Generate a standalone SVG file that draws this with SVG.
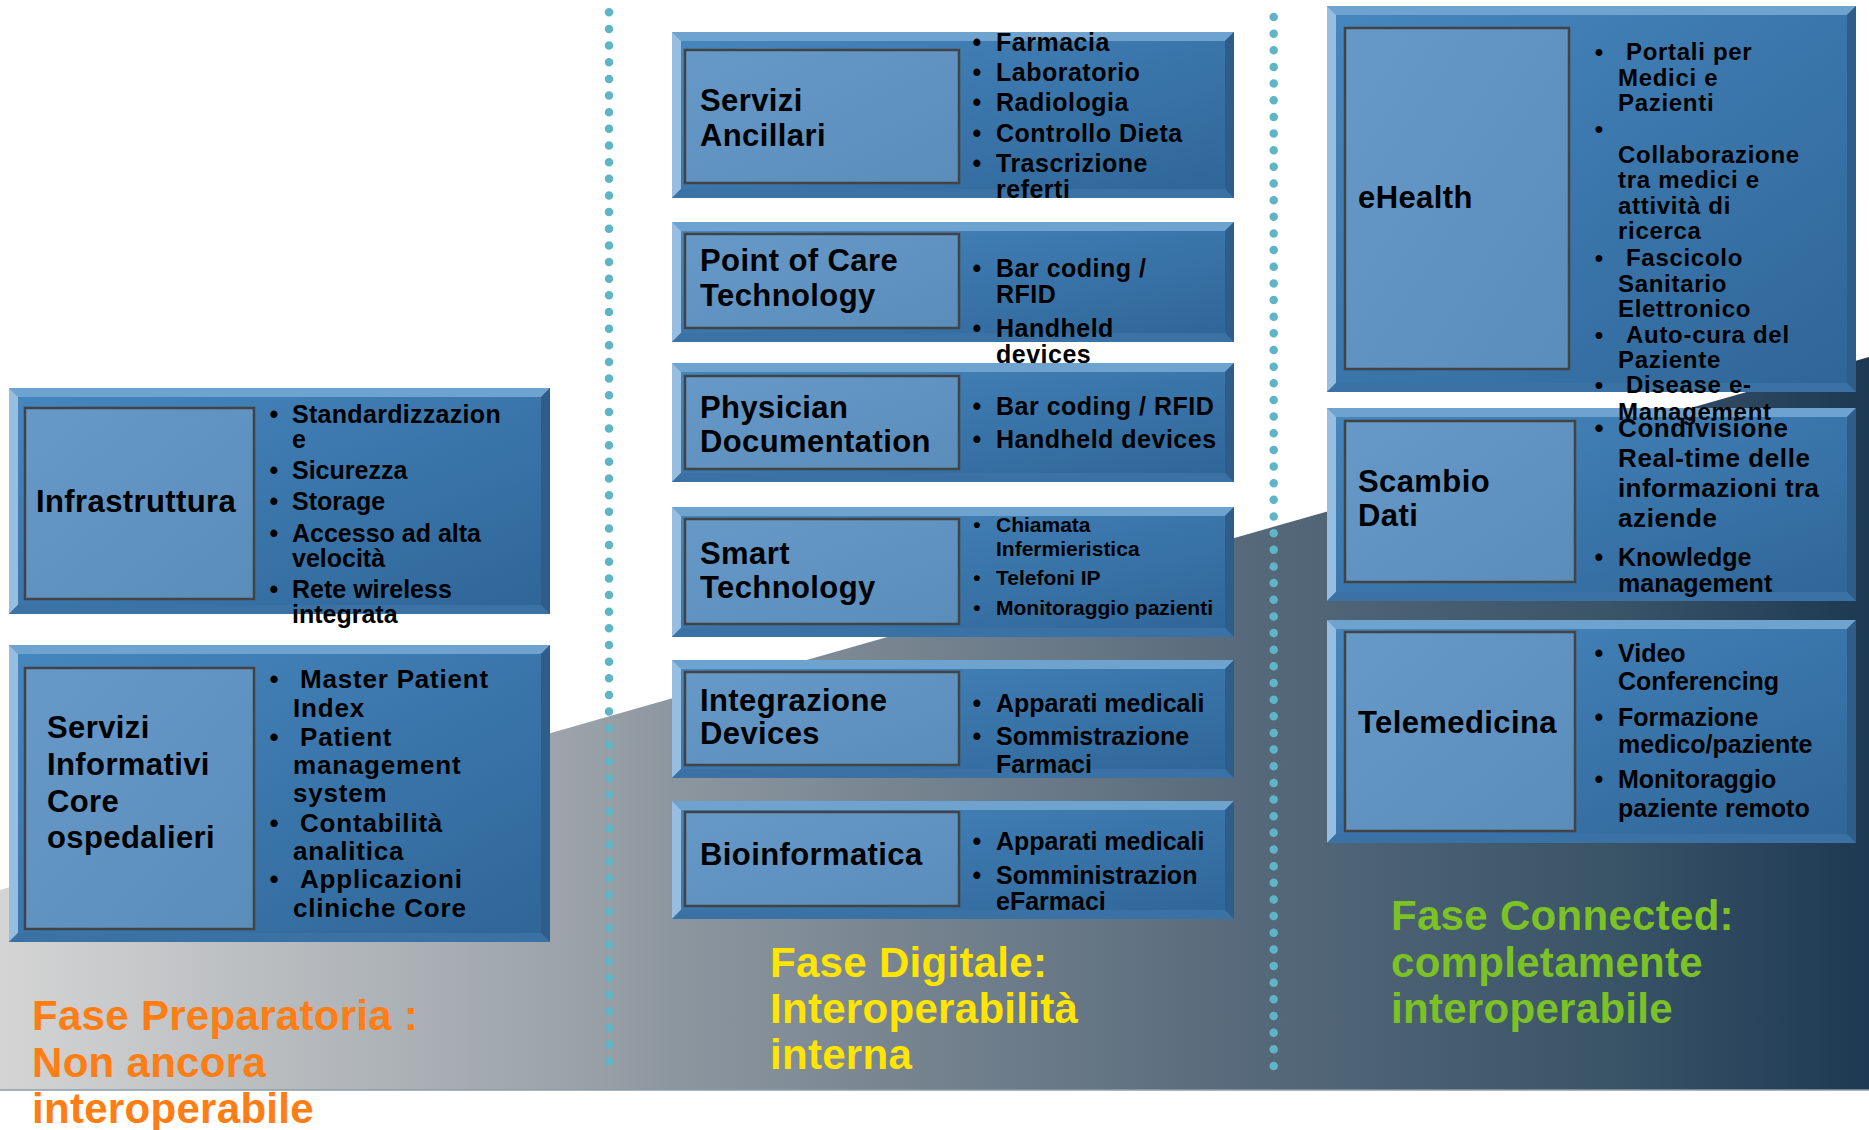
<svg xmlns="http://www.w3.org/2000/svg" width="1869" height="1130" viewBox="0 0 1869 1130">
<defs>
<linearGradient id="bg" gradientUnits="userSpaceOnUse" x1="0" y1="0" x2="1869" y2="0">
<stop offset="0" stop-color="#d4d4d4"/>
<stop offset="0.32" stop-color="#98a0a7"/>
<stop offset="0.36" stop-color="#8c969f"/>
<stop offset="0.67" stop-color="#56697a"/>
<stop offset="0.86" stop-color="#3a5468"/>
<stop offset="1" stop-color="#1d3953"/>
</linearGradient>
<linearGradient id="gOuter" x1="0" y1="0" x2="1" y2="1">
<stop offset="0" stop-color="#4687bf"/>
<stop offset="1" stop-color="#2f6597"/>
</linearGradient>
<linearGradient id="gInner" x1="0" y1="0" x2="1" y2="1">
<stop offset="0" stop-color="#6699c8"/>
<stop offset="1" stop-color="#5b8dbb"/>
</linearGradient>
</defs>
<style>
text{font-family:"Liberation Sans",Arial,sans-serif;font-weight:bold;fill:#000}
.lbl{font-size:31px;letter-spacing:0.4px}
.b25{font-size:25px}
.b26{font-size:26px}
.b24{font-size:24px;letter-spacing:0.7px}
.b21{font-size:21px}
.ls5{letter-spacing:0.5px}
.ls8{letter-spacing:0.8px}
.bul{text-anchor:middle;letter-spacing:0}
.ph{font-size:42px;letter-spacing:0.3px}
.or{fill:#ff7d12}
.ye{fill:#ffe500}
.gr{fill:#7cc224}
.tb{fill:#6fa3cf}.lb{fill:#97bde0}.rb{fill:#2e5d89}.bb{fill:#3a72a5}
.main{fill:url(#gOuter)}
.inner{fill:url(#gInner);stroke:#434343;stroke-width:2.5}
.dots{stroke:#5fb5c6;stroke-width:8.5;stroke-linecap:round;stroke-dasharray:0 16.65;fill:none}
</style>
<rect width="1869" height="1130" fill="#ffffff"/>
<polygon points="0,890 1869,357 1869,1090 0,1090" fill="url(#bg)"/>
<line x1="0" y1="1090" x2="1869" y2="1090" stroke="#8d9caa" stroke-width="1.5"/>
<g id="connectors">
<line class="dots" x1="609" y1="12.3" x2="609" y2="1066"/>
<line class="dots" x1="1273.7" y1="17" x2="1273.7" y2="1068"/>
</g>

<g id="infrastruttura">
<rect class="main" x="9" y="388" width="541" height="226"/>
<polygon class="tb" points="9,388 550,388 541,397 18,397"/>
<polygon class="lb" points="9,388 18,397 18,605 9,614"/>
<polygon class="rb" points="550,388 550,614 541,605 541,397"/>
<polygon class="bb" points="9,614 18,605 541,605 550,614"/>
<rect class="inner" x="25" y="408" width="229" height="191"/>
<text class="lbl" x="36" y="512">Infrastruttura</text>
<text class="b25 bul" x="274" y="423">•</text><text class="b25" x="292" y="423" letter-spacing="0.3">Standardizzazion</text>
<text class="b25" x="292" y="448">e</text>
<text class="b25 bul" x="274" y="479">•</text><text class="b25" x="292" y="479">Sicurezza</text>
<text class="b25 bul" x="274" y="510">•</text><text class="b25" x="292" y="510">Storage</text>
<text class="b25 bul" x="274" y="542">•</text><text class="b25" x="292" y="542">Accesso ad alta</text>
<text class="b25" x="292" y="567">velocità</text>
<text class="b25 bul" x="274" y="598">•</text><text class="b25" x="292" y="598">Rete wireless</text>
<text class="b25" x="292" y="623">integrata</text>
</g>

<g id="servizi-informativi">
<rect class="main" x="9" y="645" width="541" height="297"/>
<polygon class="tb" points="9,645 550,645 541,654 18,654"/>
<polygon class="lb" points="9,645 18,654 18,933 9,942"/>
<polygon class="rb" points="550,645 550,942 541,933 541,654"/>
<polygon class="bb" points="9,942 18,933 541,933 550,942"/>
<rect class="inner" x="25" y="668" width="229" height="261"/>
<text class="lbl" x="47" y="738">Servizi</text>
<text class="lbl" x="47" y="775">Informativi</text>
<text class="lbl" x="47" y="812">Core</text>
<text class="lbl" x="47" y="848">ospedalieri</text>
<text class="b26 bul" x="274" y="688">•</text><text class="b26 ls8" x="300" y="688">Master Patient</text>
<text class="b26 ls8" x="293" y="717">Index</text>
<text class="b26 bul" x="274" y="746">•</text><text class="b26 ls8" x="300" y="746">Patient</text>
<text class="b26 ls8" x="293" y="774">management</text>
<text class="b26 ls8" x="293" y="802">system</text>
<text class="b26 bul" x="274" y="832">•</text><text class="b26 ls8" x="300" y="832">Contabilità</text>
<text class="b26 ls8" x="293" y="860">analitica</text>
<text class="b26 bul" x="274" y="888">•</text><text class="b26 ls8" x="300" y="888">Applicazioni</text>
<text class="b26 ls8" x="293" y="917">cliniche Core</text>
</g>

<g id="servizi-ancillari">
<rect class="main" x="672" y="32" width="562" height="166"/>
<polygon class="tb" points="672,32 1234,32 1225,41 681,41"/>
<polygon class="lb" points="672,32 681,41 681,189 672,198"/>
<polygon class="rb" points="1234,32 1234,198 1225,189 1225,41"/>
<polygon class="bb" points="672,198 681,189 1225,189 1234,198"/>
<rect class="inner" x="685" y="50" width="274" height="133"/>
<text class="lbl" x="700" y="111">Servizi</text>
<text class="lbl" x="700" y="146">Ancillari</text>
<text class="b25 bul" x="977" y="51">•</text><text class="b25 ls5" x="996" y="51">Farmacia</text>
<text class="b25 bul" x="977" y="81">•</text><text class="b25 ls5" x="996" y="81">Laboratorio</text>
<text class="b25 bul" x="977" y="111">•</text><text class="b25 ls5" x="996" y="111">Radiologia</text>
<text class="b25 bul" x="977" y="142">•</text><text class="b25 ls5" x="996" y="142">Controllo Dieta</text>
<text class="b25 bul" x="977" y="172">•</text><text class="b25 ls5" x="996" y="172">Trascrizione</text>
<text class="b25 ls5" x="996" y="198">referti</text>
</g>

<g id="point-of-care">
<rect class="main" x="672" y="222" width="562" height="120"/>
<polygon class="tb" points="672,222 1234,222 1225,231 681,231"/>
<polygon class="lb" points="672,222 681,231 681,333 672,342"/>
<polygon class="rb" points="1234,222 1234,342 1225,333 1225,231"/>
<polygon class="bb" points="672,342 681,333 1225,333 1234,342"/>
<rect class="inner" x="685" y="234" width="274" height="94"/>
<text class="lbl" x="700" y="271">Point of Care</text>
<text class="lbl" x="700" y="306">Technology</text>
<text class="b25 bul" x="977" y="277">•</text><text class="b25 ls5" x="996" y="277">Bar coding /</text>
<text class="b25 ls5" x="996" y="303">RFID</text>
<text class="b25 bul" x="977" y="337">•</text><text class="b25 ls5" x="996" y="337">Handheld</text>
<text class="b25 ls5" x="996" y="363">devices</text>
</g>

<g id="physician-documentation">
<rect class="main" x="672" y="363" width="562" height="119"/>
<polygon class="tb" points="672,363 1234,363 1225,372 681,372"/>
<polygon class="lb" points="672,363 681,372 681,473 672,482"/>
<polygon class="rb" points="1234,363 1234,482 1225,473 1225,372"/>
<polygon class="bb" points="672,482 681,473 1225,473 1234,482"/>
<rect class="inner" x="685" y="376" width="274" height="93"/>
<text class="lbl" x="700" y="418">Physician</text>
<text class="lbl" x="700" y="452">Documentation</text>
<text class="b25 bul" x="977" y="415">•</text><text class="b25 ls5" x="996" y="415">Bar coding / RFID</text>
<text class="b25 bul" x="977" y="448">•</text><text class="b25 ls5" x="996" y="448">Handheld devices</text>
</g>

<g id="smart-technology">
<rect class="main" x="672" y="507" width="562" height="130"/>
<polygon class="tb" points="672,507 1234,507 1225,516 681,516"/>
<polygon class="lb" points="672,507 681,516 681,628 672,637"/>
<polygon class="rb" points="1234,507 1234,637 1225,628 1225,516"/>
<polygon class="bb" points="672,637 681,628 1225,628 1234,637"/>
<rect class="inner" x="685" y="519" width="274" height="105"/>
<text class="lbl" x="700" y="564">Smart</text>
<text class="lbl" x="700" y="598">Technology</text>
<text class="b21 bul" x="977" y="532">•</text><text class="b21" x="996" y="532">Chiamata</text>
<text class="b21" x="996" y="556">Infermieristica</text>
<text class="b21 bul" x="977" y="585">•</text><text class="b21" x="996" y="585">Telefoni IP</text>
<text class="b21 bul" x="977" y="615">•</text><text class="b21" x="996" y="615">Monitoraggio pazienti</text>
</g>

<g id="integrazione-devices">
<rect class="main" x="672" y="660" width="562" height="118"/>
<polygon class="tb" points="672,660 1234,660 1225,669 681,669"/>
<polygon class="lb" points="672,660 681,669 681,769 672,778"/>
<polygon class="rb" points="1234,660 1234,778 1225,769 1225,669"/>
<polygon class="bb" points="672,778 681,769 1225,769 1234,778"/>
<rect class="inner" x="685" y="672" width="274" height="93"/>
<text class="lbl" x="700" y="711">Integrazione</text>
<text class="lbl" x="700" y="744">Devices</text>
<text class="b25 bul" x="977" y="712">•</text><text class="b25" x="996" y="712">Apparati medicali</text>
<text class="b25 bul" x="977" y="745">•</text><text class="b25" x="996" y="745">Sommistrazione</text>
<text class="b25" x="996" y="773">Farmaci</text>
</g>

<g id="bioinformatica">
<rect class="main" x="672" y="801" width="562" height="118"/>
<polygon class="tb" points="672,801 1234,801 1225,810 681,810"/>
<polygon class="lb" points="672,801 681,810 681,910 672,919"/>
<polygon class="rb" points="1234,801 1234,919 1225,910 1225,810"/>
<polygon class="bb" points="672,919 681,910 1225,910 1234,919"/>
<rect class="inner" x="685" y="812" width="274" height="94"/>
<text class="lbl" x="700" y="865">Bioinformatica</text>
<text class="b25 bul" x="977" y="850">•</text><text class="b25" x="996" y="850">Apparati medicali</text>
<text class="b25 bul" x="977" y="884">•</text><text class="b25" x="996" y="884">Somministrazion</text>
<text class="b25" x="996" y="910">eFarmaci</text>
</g>

<g id="scambio-dati">
<rect class="main" x="1327" y="408" width="529" height="193"/>
<polygon class="tb" points="1327,408 1856,408 1847,417 1336,417"/>
<polygon class="lb" points="1327,408 1336,417 1336,592 1327,601"/>
<polygon class="rb" points="1856,408 1856,601 1847,592 1847,417"/>
<polygon class="bb" points="1327,601 1336,592 1847,592 1856,601"/>
<rect class="inner" x="1345" y="421" width="230" height="161"/>
<text class="lbl" x="1358" y="492">Scambio</text>
<text class="lbl" x="1358" y="526">Dati</text>
<text class="b26 bul" x="1599" y="437">•</text><text class="b26" x="1618" y="437" letter-spacing="0.6">Condivisione</text>
<text class="b26" x="1618" y="467" letter-spacing="0.6">Real-time delle</text>
<text class="b26" x="1618" y="497" letter-spacing="0.4">informazioni tra</text>
<text class="b26" x="1618" y="527" letter-spacing="0.6">aziende</text>
<text class="b25 bul" x="1599" y="566">•</text><text class="b25" x="1618" y="566">Knowledge</text>
<text class="b25" x="1618" y="592">management</text>
</g>

<g id="telemedicina">
<rect class="main" x="1327" y="620" width="529" height="223"/>
<polygon class="tb" points="1327,620 1856,620 1847,629 1336,629"/>
<polygon class="lb" points="1327,620 1336,629 1336,834 1327,843"/>
<polygon class="rb" points="1856,620 1856,843 1847,834 1847,629"/>
<polygon class="bb" points="1327,843 1336,834 1847,834 1856,843"/>
<rect class="inner" x="1345" y="632" width="230" height="199"/>
<text class="lbl" x="1358" y="733">Telemedicina</text>
<text class="b25 bul" x="1599" y="662">•</text><text class="b25" x="1618" y="662">Video</text>
<text class="b25" x="1618" y="690">Conferencing</text>
<text class="b25 bul" x="1599" y="726">•</text><text class="b25" x="1618" y="726">Formazione</text>
<text class="b25" x="1618" y="753">medico/paziente</text>
<text class="b25 bul" x="1599" y="788">•</text><text class="b25" x="1618" y="788">Monitoraggio</text>
<text class="b25" x="1618" y="817">paziente remoto</text>
</g>

<g id="ehealth">
<rect class="main" x="1327" y="6" width="529" height="386"/>
<polygon class="tb" points="1327,6 1856,6 1847,15 1336,15"/>
<polygon class="lb" points="1327,6 1336,15 1336,383 1327,392"/>
<polygon class="rb" points="1856,6 1856,392 1847,383 1847,15"/>
<polygon class="bb" points="1327,392 1336,383 1847,383 1856,392"/>
<rect class="inner" x="1345" y="28" width="224" height="341"/>
<text class="lbl" x="1358" y="208">eHealth</text>
<text class="b24 bul" x="1599" y="60">•</text><text class="b24" x="1626" y="60">Portali per</text>
<text class="b24" x="1618" y="86">Medici e</text>
<text class="b24" x="1618" y="111">Pazienti</text>
<text class="b24 bul" x="1599" y="137">•</text>
<text class="b24" x="1618" y="163">Collaborazione</text>
<text class="b24" x="1618" y="188">tra medici e</text>
<text class="b24" x="1618" y="214">attività di</text>
<text class="b24" x="1618" y="239">ricerca</text>
<text class="b24 bul" x="1599" y="266">•</text><text class="b24" x="1626" y="266">Fascicolo</text>
<text class="b24" x="1618" y="292">Sanitario</text>
<text class="b24" x="1618" y="317">Elettronico</text>
<text class="b24 bul" x="1599" y="343">•</text><text class="b24" x="1626" y="343">Auto-cura del</text>
<text class="b24" x="1618" y="368">Paziente</text>
<text class="b24 bul" x="1599" y="393">•</text><text class="b24" x="1626" y="393">Disease e-</text>
<text class="b24" x="1618" y="420">Management</text>
</g>

<g id="fase-preparatoria">
<text class="ph or" x="32" y="1030">Fase Preparatoria :</text>
<text class="ph or" x="32" y="1077">Non ancora</text>
<text class="ph or" x="32" y="1123">interoperabile</text>
</g>
<g id="fase-digitale">
<text class="ph ye" x="770" y="977">Fase Digitale:</text>
<text class="ph ye" x="770" y="1023">Interoperabilità</text>
<text class="ph ye" x="770" y="1069">interna</text>
</g>
<g id="fase-connected">
<text class="ph gr" x="1391" y="930">Fase Connected:</text>
<text class="ph gr" x="1391" y="977">completamente</text>
<text class="ph gr" x="1391" y="1023">interoperabile</text>
</g>
</svg>
